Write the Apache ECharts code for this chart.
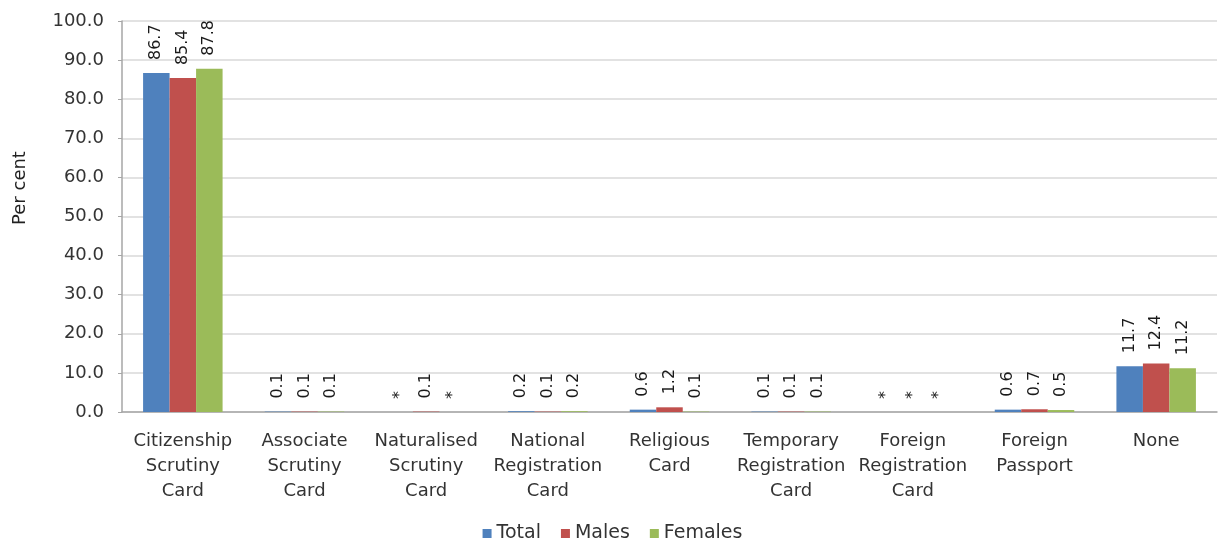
<!DOCTYPE html>
<html>
<head>
<meta charset="utf-8">
<script src="https://cdn.jsdelivr.net/npm/echarts@6/dist/echarts.min.js"></script>
<style>
  html, body { margin: 0; padding: 0; background: #fff; }
  #chart { width: 1225px; height: 539px; }
</style>
</head>
<body>
<div id="chart"></div>
<script>
// Type of identity document held, per cent (null = "*", negligible)
const categories = [
  'Citizenship\nScrutiny\nCard',
  'Associate\nScrutiny\nCard',
  'Naturalised\nScrutiny\nCard',
  'National\nRegistration\nCard',
  'Religious\nCard',
  'Temporary\nRegistration\nCard',
  'Foreign\nRegistration\nCard',
  'Foreign\nPassport',
  'None'
];
const totalValues   = [86.7, 0.1, null, 0.2, 0.6, 0.1, null, 0.6, 11.7];
const malesValues   = [85.4, 0.1, 0.1,  0.1, 1.2, 0.1, null, 0.7, 12.4];
const femalesValues = [87.8, 0.1, null, 0.2, 0.1, 0.1, null, 0.5, 11.2];
const seriesNames = ['Total', 'Males', 'Females'];
const seriesColors = ['#4F81BD', '#C0504D', '#9BBB59'];

const FONT = 'DejaVu Sans';

function toData(values) {
  return values.map(v => v === null
    ? { value: 0, label: { formatter: '*' } }
    : v);
}

function makeSeries(name, values, color) {
  return {
    name: name,
    type: 'bar',
    data: toData(values),
    barWidth: 26.5,
    barGap: '0%',
    itemStyle: { color: color },
    label: {
      show: true,
      position: 'top',
      rotate: 90,
      align: 'left',
      verticalAlign: 'middle',
      distance: 13,
      fontFamily: FONT,
      fontSize: 16,
      color: '#1a1a1a',
      formatter: p => Number(p.value).toFixed(1)
    }
  };
}

const chart = echarts.init(document.getElementById('chart'), null, { renderer: 'canvas' });
chart.setOption({
  animation: false,
  backgroundColor: '#ffffff',
  grid: { left: 122, right: 8, top: 21, bottom: 127, containLabel: false },
  legend: {
    top: 519,
    left: 'center',
    itemWidth: 9,
    itemHeight: 9,
    itemGap: 20,
    icon: 'rect',
    textStyle: { fontFamily: FONT, fontSize: 19, color: '#333' },
    data: seriesNames
  },
  xAxis: {
    type: 'category',
    data: categories,
    axisLine: { lineStyle: { color: '#A6A6A6', width: 1.5 } },
    axisTick: { show: false },
    axisLabel: {
      interval: 0,
      margin: 17,
      fontFamily: FONT,
      fontSize: 18,
      lineHeight: 25,
      color: '#333'
    }
  },
  yAxis: {
    type: 'value',
    min: 0,
    max: 100,
    interval: 10,
    axisLine: { show: true, lineStyle: { color: '#A6A6A6', width: 1.5 } },
    axisTick: { show: true, length: 4, lineStyle: { color: '#A6A6A6' } },
    splitLine: { lineStyle: { color: '#D9D9D9', width: 1.5 } },
    axisLabel: {
      margin: 18,
      fontFamily: FONT,
      fontSize: 18,
      color: '#333',
      formatter: v => v.toFixed(1)
    }
  },
  graphic: [{
    type: 'text',
    x: 20,
    y: 188,
    rotation: Math.PI / 2,
    style: {
      text: 'Per cent',
      fontFamily: FONT,
      fontSize: 18,
      fill: '#222',
      align: 'center',
      verticalAlign: 'middle'
    }
  }],
  series: [
    makeSeries(seriesNames[0], totalValues, seriesColors[0]),
    makeSeries(seriesNames[1], malesValues, seriesColors[1]),
    makeSeries(seriesNames[2], femalesValues, seriesColors[2])
  ]
});
</script>
</body>
</html>
